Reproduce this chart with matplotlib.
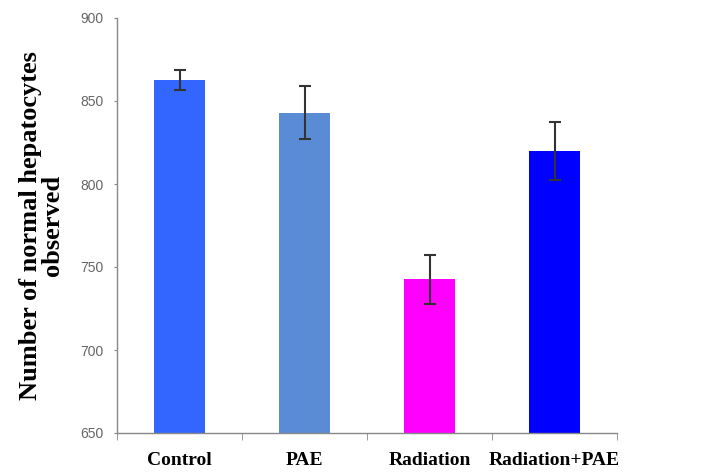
import matplotlib
matplotlib.use("Agg")
import matplotlib.pyplot as plt
import numpy as np

categories = ["Control", "PAE", "Radiation", "Radiation+PAE"]
values = [862.5, 843, 742.5, 820]
errors = [6, 16, 15, 17.5]
colors = ["#3366FF", "#5A8CD6", "#FF00FF", "#0000FF"]
yticks = [650, 700, 750, 800, 850, 900]

fig = plt.figure(figsize=(7.16, 4.76), dpi=100)
ax = fig.add_axes([117/716, (476-433)/476, 500/716, 415/476])

x = np.arange(len(categories))
ax.bar(x, values, width=0.41, color=colors, bottom=0, zorder=2)
ax.errorbar(x, values, yerr=errors, fmt="none", ecolor="#333333",
            elinewidth=1.5, capsize=4, capthick=1.5, zorder=3)

ax.set_xlim(-0.5, len(categories) - 0.5)
ax.set_ylim(650, 900)
ax.set_yticks(yticks)
ax.set_yticklabels([str(t) for t in yticks], fontsize=10,
                   family="Liberation Sans", color="#666666")
ax.set_xticks(x)
ax.set_xticklabels(categories, fontsize=14, family="Liberation Serif",
                   fontweight="bold", color="black")
ax.tick_params(axis="x", length=0, pad=14)
ax.set_xticks(np.arange(len(categories) + 1) - 0.5, minor=True)
ax.tick_params(axis="x", which="minor", length=5, color="#888888", direction="out")
ax.tick_params(axis="y", length=2.5, color="#888888", pad=7)

for s in ["top", "right"]:
    ax.spines[s].set_visible(False)
for s in ["left", "bottom"]:
    ax.spines[s].set_color("#888888")
    ax.spines[s].set_linewidth(1.0)

ax.set_ylabel("Number of normal hepatocytes\nobserved", fontsize=19,
              family="Liberation Serif", fontweight="bold", labelpad=12,
              linespacing=0.95)

fig.savefig("out.png", dpi=100)
